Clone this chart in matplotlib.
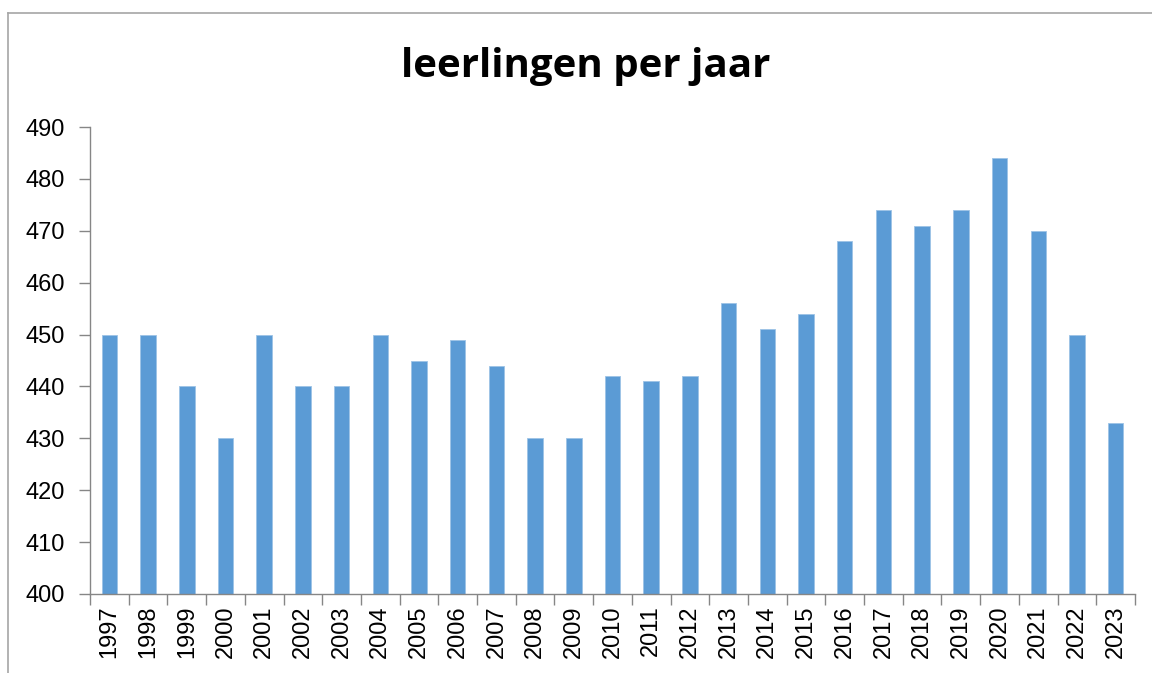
import matplotlib
matplotlib.use("Agg")
import matplotlib.pyplot as plt
from matplotlib.lines import Line2D

years = [str(y) for y in range(1997, 2024)]
values = [450, 450, 440, 430, 450, 440, 440, 450, 445, 449, 444, 430, 430,
          442, 441, 442, 456, 451, 454, 468, 474, 471, 474, 484, 470, 450, 433]
yticks = list(range(400, 491, 10))

W, H = 1152, 673
fig = plt.figure(figsize=(W / 100, H / 100), dpi=100)
ax = fig.add_axes([90 / W, 1 - 594 / H, (1135 - 90) / W, (594 - 127) / H])

x = range(len(years))
ax.bar(x, [v - 400 for v in values], bottom=400, width=0.4, color="#5B9BD5",
       edgecolor="#9DC3E6", linewidth=0.6)
ax.set_xlim(-0.5, len(years) - 0.5)
ax.set_ylim(400, 490)
ax.set_yticks(yticks)
ax.set_yticklabels([str(t) for t in yticks], fontsize=17, family="Liberation Sans")
ax.set_xticks([i - 0.5 for i in range(len(years) + 1)], minor=False)
ax.set_xticklabels([])
ax.set_xticks(list(x), minor=True)
ax.set_xticklabels(years, minor=True, rotation=90, fontsize=17, family="Liberation Sans")
ax.tick_params(axis="x", which="major", length=8, color="#868686", width=1, direction="out")
ax.tick_params(axis="x", which="minor", length=0, pad=8)
ax.tick_params(axis="y", length=8, color="#868686", width=1, pad=10)
for s in ["top", "right"]:
    ax.spines[s].set_visible(False)
for s in ["left", "bottom"]:
    ax.spines[s].set_color("#868686")
    ax.spines[s].set_linewidth(1)

fig.text(0.508, 1 - 67 / H, "leerlingen per jaar", ha="center", va="center",
         fontsize=29, fontweight="bold", family="Open Sans")

bx = 8 / W
ty = 1 - 13 / H
fig.add_artist(Line2D([bx, bx], [0, ty], transform=fig.transFigure, color="#A6A6A6", lw=1.2))
fig.add_artist(Line2D([bx, 1], [ty, ty], transform=fig.transFigure, color="#A6A6A6", lw=1.2))

fig.savefig("out.png", dpi=100, facecolor="white")
